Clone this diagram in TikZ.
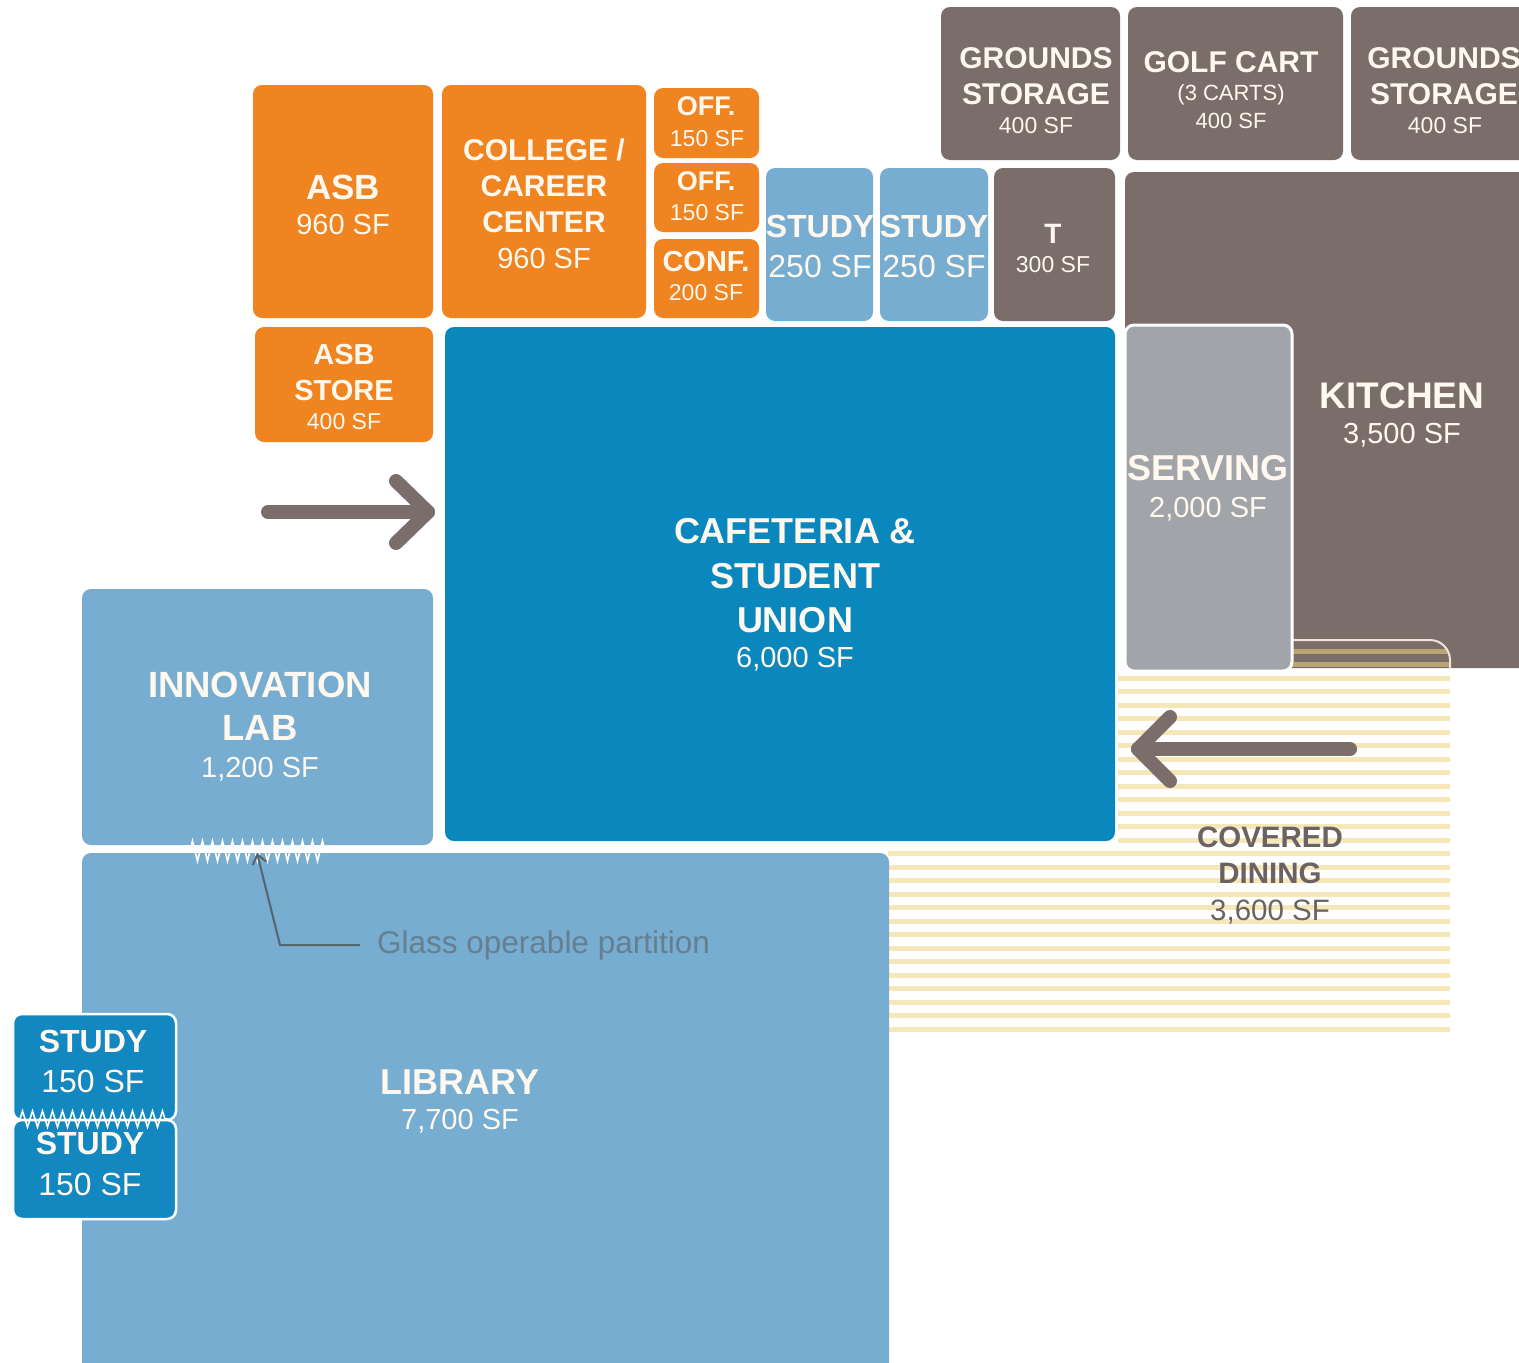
\documentclass[tikz,border=0pt]{standalone}
\usepackage{fontspec}
\setmainfont{Liberation Sans}
\usetikzlibrary{fit,decorations.pathmorphing,arrows.meta}
\definecolor{orng}{HTML}{F08421}
\definecolor{brwn}{HTML}{7B6D6A}
\definecolor{lblue}{HTML}{76ADD1}
\definecolor{dblue}{HTML}{0A88BE}
\definecolor{sblue}{HTML}{1387BF}
\definecolor{srv}{HTML}{A1A5A9}
\definecolor{cream}{HTML}{FFF8EE}
\definecolor{stripeY}{HTML}{EDD47E}
\definecolor{dgray}{HTML}{6A6361}
\definecolor{leadc}{HTML}{56646E}
\definecolor{glassc}{HTML}{667F90}
\definecolor{edgec}{HTML}{EFE3D8}
\begin{document}
\begin{tikzpicture}[x=1pt,y=-1pt,
  room/.style={rounded corners=9pt, inner sep=0pt, outer sep=0pt, draw=none},
  hb/.style={font=\bfseries\fontsize{#1}{#1}\selectfont, text=cream, inner sep=0pt, anchor=base},
  rg/.style={font=\fontsize{#1}{#1}\selectfont, text=cream, inner sep=0pt, anchor=base},
  bigarrow/.style={draw=brwn, line width=14pt, line cap=round, line join=round},
  stripeline/.style={draw=stripeY, line width=5pt, opacity=0.55},
  leader/.style={draw=leadc, line width=2pt},
  zig/.style={draw=white, line width=1.6pt, decorate, decoration={zigzag, segment length=10pt, amplitude=10pt}},
  zigs/.style={draw=white, line width=1.6pt, decorate, decoration={zigzag, segment length=10pt, amplitude=8pt}},
  edgeline/.style={draw=edgec, line width=2pt}
]
\clip (0,0) rectangle (1519,1363);
\fill[white] (0,0) rectangle (1519,1363);

% orange rooms
\node[room, fill=orng, fit={(253,85)(433,318)}] (asb) {};
\node[room, fill=orng, fit={(442,85)(646,318)}] (ccc) {};
\node[room, fill=orng, fit={(654,88)(759,158)}] (off1) {};
\node[room, fill=orng, fit={(654,163)(759,232)}] (off2) {};
\node[room, fill=orng, fit={(654,239)(759,318)}] (conf) {};
\node[room, fill=orng, fit={(255,327)(433,442)}] (asbs) {};
% study 250 and T
\node[room, fill=lblue, fit={(766,168)(873,321)}] (st1) {};
\node[room, fill=lblue, fit={(880,168)(988,321)}] (st2) {};
\node[room, fill=brwn, fit={(994,168)(1115,321)}] (tt) {};
% grounds
\node[room, fill=brwn, fit={(941,7)(1120,160)}] (gs1) {};
\node[room, fill=brwn, fit={(1128,7)(1343,160)}] (gc) {};
\node[room, fill=brwn, fit={(1351,7)(1545,160)}] (gs2) {};
% kitchen
\node[room, fill=brwn, fit={(1125,172)(1545,668)}] (kit) {};

% covered dining stripes
\begin{scope}
\clip (888,1036) -- (888,846) -- (1118,846) -- (1118,672) -- (1291,672) -- (1291,640) -- (1430,640) .. controls (1441,640) and (1450,649) .. (1450,660) -- (1450,1036) -- cycle;
\foreach \i in {0,...,28} {
  \draw[stripeline] (880,651+13.5*\i) -- (1460,651+13.5*\i);
}
\end{scope}
\draw[edgeline] (1291,640) -- (1430,640) .. controls (1441,640) and (1450,649) .. (1450,660) -- (1450,668);

% serving
\node[room, fill=srv, draw=white, line width=3pt, fit={(1125,325)(1292,671)}] (serv) {};
% cafeteria
\node[room, fill=dblue, fit={(445,327)(1115,841)}] (cafe) {};
% innovation lab and library
\node[room, fill=lblue, fit={(82,589)(433,845)}] (inno) {};
\node[room, fill=lblue, fit={(82,853)(889,1385)}] (lib) {};
% small study rooms
\node[room, fill=sblue, draw=white, line width=2.5pt, fit={(13,1014)(176,1120)}] (sa) {};
\node[room, fill=sblue, draw=white, line width=2.5pt, fit={(13,1120)(176,1219)}] (sb) {};

% labels
\node[hb=35] (asbT) at (343,199) {ASB};
\node[rg=29] (asbA) at (343,234.5) {960 SF};
\node[hb=30] (c1) at (544,160) {COLLEGE /};
\node[hb=30] (c2) at (544,196) {CAREER};
\node[hb=30] (c3) at (544,232) {CENTER};
\node[rg=29] (c4) at (544,268.5) {960 SF};
\node[hb=27] (o1) at (706,115.5) {OFF.};
\node[rg=23] (o1a) at (707,146) {150 SF};
\node[hb=27] (o2) at (706,190.5) {OFF.};
\node[rg=23] (o2a) at (707,220) {150 SF};
\node[hb=29] (cf) at (706,271.5) {CONF.};
\node[rg=23] (cfa) at (706,300) {200 SF};
\node[hb=32] (s1t) at (820,237.5) {STUDY};
\node[rg=32] (s1a) at (820,277.5) {250 SF};
\node[hb=32] (s2t) at (934,237.5) {STUDY};
\node[rg=32] (s2a) at (934,277.5) {250 SF};
\node[hb=28] (tT) at (1053,243) {T};
\node[rg=23] (tA) at (1053,272) {300 SF};
\node[hb=30] (g1a) at (1036,68) {GROUNDS};
\node[hb=30] (g1b) at (1036,104) {STORAGE};
\node[rg=23] (g1c) at (1036,133) {400 SF};
\node[hb=30] (gca) at (1231,72) {GOLF CART};
\node[rg=22] (gcb) at (1231,100) {(3 CARTS)};
\node[rg=22] (gcc) at (1231,128) {400 SF};
\node[hb=30] (g2a) at (1444,68) {GROUNDS};
\node[hb=30] (g2b) at (1444,104) {STORAGE};
\node[rg=23] (g2c) at (1445,133) {400 SF};
\node[hb=37] (kT) at (1402,408) {KITCHEN};
\node[rg=29] (kA) at (1402,443.5) {3,500 SF};
\node[hb=36] (svT) at (1208,480) {SERVING};
\node[rg=29] (svA) at (1208,517.5) {2,000 SF};
\node[hb=29] (asT1) at (344,364.5) {ASB};
\node[hb=29] (asT2) at (344,400.5) {STORE};
\node[rg=23] (asA) at (344,429) {400 SF};
\node[hb=36] (cfT1) at (795,543) {CAFETERIA \&};
\node[hb=36] (cfT2) at (795,588) {STUDENT};
\node[hb=36] (cfT3) at (795,632) {UNION};
\node[rg=29] (cfA) at (795,667.5) {6,000 SF};
\node[hb=36.5] (inT1) at (260,697) {INNOVATION};
\node[hb=36.5] (inT2) at (260,740) {LAB};
\node[rg=29] (inA) at (260,777.5) {1,200 SF};
\node[hb=29.5, text=dgray] (cdT1) at (1270,847.6) {COVERED};
\node[hb=29.5, text=dgray] (cdT2) at (1270,883.6) {DINING};
\node[rg=29.5, text=dgray] (cdA) at (1270,920.6) {3,600 SF};
\node[hb=36] (lbT) at (460,1094) {LIBRARY};
\node[rg=29] (lbA) at (460,1129.5) {7,700 SF};
\node[hb=32] (saT) at (93,1052.5) {STUDY};
\node[rg=32] (saA) at (93,1092.5) {150 SF};
\node[hb=32] (sbT) at (90,1154.5) {STUDY};
\node[rg=32] (sbA) at (90,1195.5) {150 SF};

% operable partitions
\draw[zig] (190,851) -- (326,851);
\draw[zigs] (20,1119) -- (168,1119);

% entry arrows
\coordinate (rs) at (268,512);
\coordinate (rt) at (428,512);
\draw[bigarrow] (rs) -- (rt);
\draw[bigarrow] (396,481) -- (rt) -- (396,543);
\coordinate (ls) at (1350,749);
\coordinate (lt) at (1138,749);
\draw[bigarrow] (ls) -- (lt);
\draw[bigarrow] (1170,717) -- (lt) -- (1170,781);

% leader
\node[font=\fontsize{31.5}{31.5}\selectfont, text=glassc, inner sep=0pt, anchor=west] (glass) at (377,945) {Glass operable partition};
\coordinate (ptip) at (257,853);
\coordinate (bend) at (280,945);
\draw[leader, -{Straight Barb[length=9pt, width=14pt]}] ([xshift=-17pt]glass.west) -- (bend) -- (ptip);
\end{tikzpicture}
\end{document}
